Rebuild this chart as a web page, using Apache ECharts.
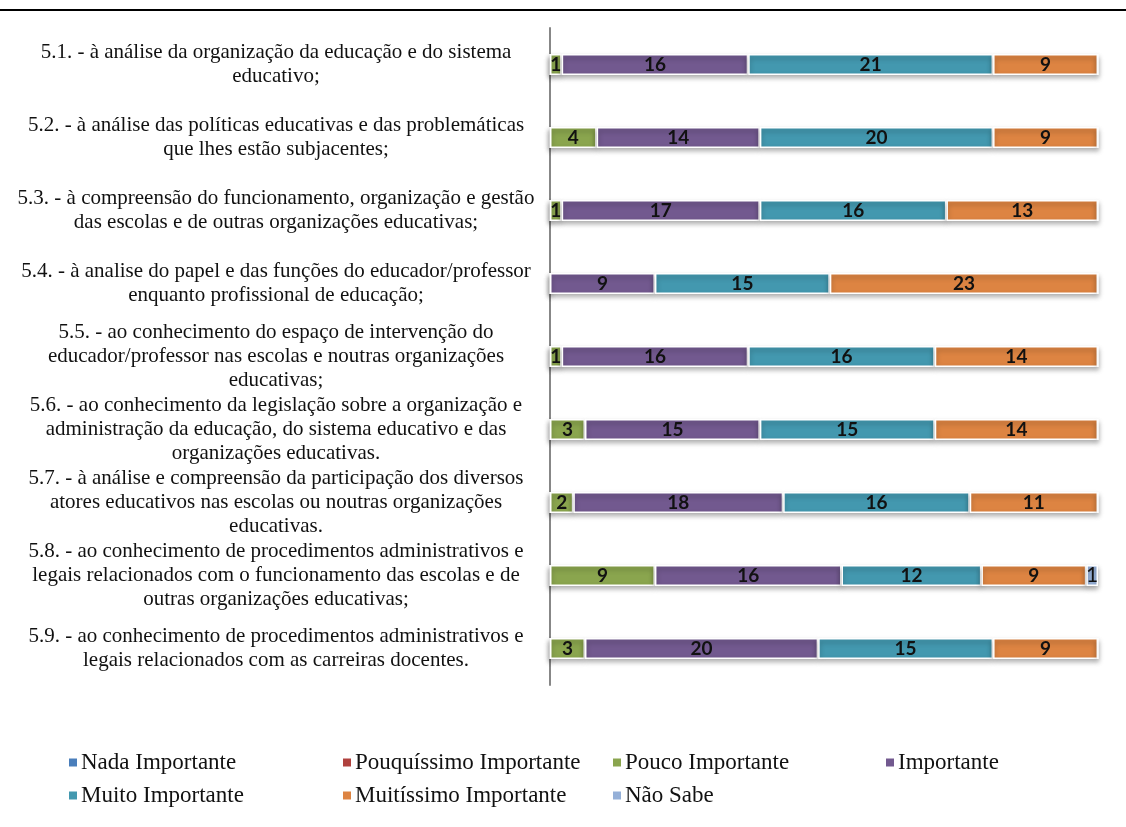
<!DOCTYPE html>
<html>
<head>
<meta charset="utf-8">
<script src="https://cdn.jsdelivr.net/npm/echarts@6/dist/echarts.min.js"></script>
<style>
  html, body { margin: 0; padding: 0; background: #fff; }
  #chart { width: 1126px; height: 827px; }
</style>
</head>
<body>
<div id="chart"></div>
<script>
// categorias (perguntas 5.1 a 5.9)
var categories = [
  '5.1. - à análise da organização da educação e do sistema\neducativo;',
  '5.2. - à análise das políticas educativas e das problemáticas\nque lhes estão subjacentes;',
  '5.3. - à compreensão do funcionamento, organização e gestão\ndas escolas e de outras organizações educativas;',
  '5.4. - à analise do papel e das funções do educador/professor\nenquanto profissional de educação;',
  '5.5. - ao conhecimento do espaço de intervenção do\neducador/professor nas escolas e noutras organizações\neducativas;',
  '5.6. - ao conhecimento da legislação sobre a organização e\nadministração da educação, do sistema educativo e das\norganizações educativas.',
  '5.7. - à análise e compreensão da participação dos diversos\natores educativos nas escolas ou noutras organizações\neducativas.',
  '5.8. - ao conhecimento de procedimentos administrativos e\nlegais relacionados com o funcionamento das escolas e de\noutras organizações educativas;',
  '5.9. - ao conhecimento de procedimentos administrativos e\nlegais relacionados com as carreiras docentes.'
];
var seriesNames = ['Nada Importante', 'Pouquíssimo Importante', 'Pouco Importante', 'Importante',
  'Muito Importante', 'Muitíssimo Importante', 'Não Sabe'];
var nadaImportante        = [0, 0, 0, 0, 0, 0, 0, 0, 0];
var pouquissimoImportante = [0, 0, 0, 0, 0, 0, 0, 0, 0];
var poucoImportante       = [1, 4, 1, 0, 1, 3, 2, 9, 3];
var importante            = [16, 14, 17, 9, 16, 15, 18, 16, 20];
var muitoImportante       = [21, 20, 16, 15, 16, 15, 16, 12, 15];
var muitissimoImportante  = [9, 9, 13, 23, 14, 14, 11, 9, 9];
var naoSabe               = [0, 0, 0, 0, 0, 0, 0, 1, 0];
var total = 47;

var seriesData = [nadaImportante, pouquissimoImportante, poucoImportante, importante,
  muitoImportante, muitissimoImportante, naoSabe];
var colors = ['#4a7ebb', '#b0413e', '#8aa54e', '#72598f', '#4398af', '#dd8442', '#95b0d8'];

let myChart = echarts.init(document.getElementById('chart'))

var series = seriesData.map(function (d, i) {
  return {
    name: seriesNames[i],
    type: 'bar',
    stack: 'total',
    barWidth: 21,
    data: d,
    itemStyle: {
      color: colors[i],
      borderColor: '#fff',
      borderWidth: 1.5,
      shadowBlur: 5,
      shadowOffsetY: 3,
      shadowColor: 'rgba(0,0,0,0.35)'
    },
    label: {
      show: true,
      position: 'inside',
      color: '#111',
      fontFamily: 'Lato',
      fontWeight: i === 6 ? 'normal' : 'bold',
      fontSize: i === 6 ? 21 : 19,
      formatter: function (p) { return p.value ? p.value : ''; }
    }
  }
});

function col(names, left) {
  return {
    orient: 'vertical',
    left: left,
    top: 746,
    itemGap: 10,
    itemWidth: 10,
    itemHeight: 10,
    icon: 'rect',
    textStyle: { fontFamily: 'Liberation Serif', fontSize: 23, color: '#111', padding: [0, 0, 0, -2] },
    data: names
  }
}

var option = {
  backgroundColor: '#fff',
  animation: false,
  legend: [
    col(['Nada Importante', 'Muito Importante'], 62),
    col(['Pouquíssimo Importante', 'Muitíssimo Importante'], 336),
    col(['Pouco Importante', 'Não Sabe'], 606),
    col(['Importante'], 879)
  ],
  grid: { left: 550, right: 28, top: 28, bottom: 142 },
  xAxis: {
    type: 'value',
    min: 0,
    max: total,
    show: false
  },
  yAxis: {
    type: 'category',
    inverse: true,
    data: categories,
    axisLine: { show: true, lineStyle: { color: '#878787', width: 2 } },
    axisTick: { show: false },
    axisLabel: {
      align: 'center',
      margin: 274,
      fontFamily: 'Liberation Serif',
      fontSize: 21,
      lineHeight: 24,
      color: '#111'
    }
  },
  graphic: [{
    type: 'line',
    shape: { x1: 0, y1: 10, x2: 1126, y2: 10 },
    style: { stroke: '#000', lineWidth: 2 }
  }],
  series: series
};

myChart.setOption(option)

window.addEventListener('resize', function () {
  myChart.resize()
})
</script>
</body>
</html>
